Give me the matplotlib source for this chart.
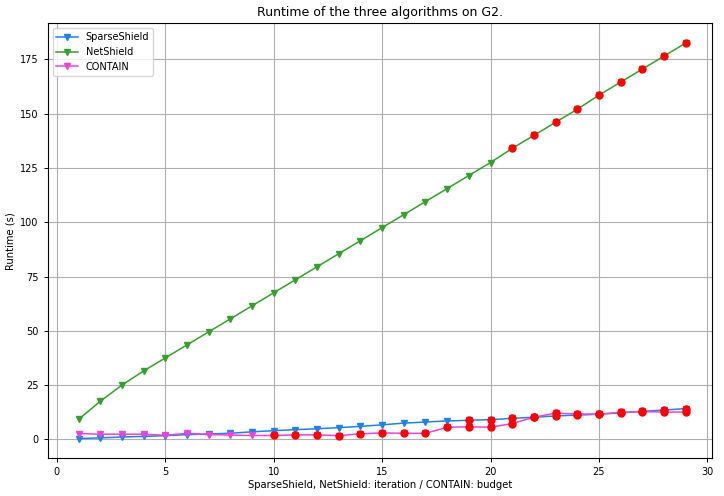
import numpy as np
import matplotlib
matplotlib.use("Agg")
import matplotlib.pyplot as plt

# ── data ─────────────────────────────────────────────────────
steps = list(range(1, 30))

sparseshield = [0.4, 0.7, 1.1, 1.4, 1.7, 2.2, 2.5, 2.8, 3.5, 4.0,
                4.5, 4.9, 5.4, 6.0, 6.7, 7.5, 8.0, 8.5, 8.8, 9.1,
                9.7, 10.2, 10.8, 11.2, 11.6, 12.3, 12.9, 13.5, 14.2]

netshield = [9.2, 17.5, 25.0, 31.5, 37.5, 43.5, 49.5, 55.5, 61.5, 67.5,
             73.5, 79.5, 85.5, 91.5, 97.5, 103.5, 109.5, 115.5, 121.5, 127.5,
             134.0, 140.0, 146.0, 152.0, 158.5, 164.5, 170.5, 176.5, 182.5]

contain = [2.7, 2.4, 2.4, 2.4, 1.9, 2.8, 2.2, 2.0, 1.8, 1.8,
           2.1, 2.1, 1.7, 2.6, 3.0, 2.8, 2.8, 5.6, 5.8, 5.6,
           7.3, 10.2, 12.1, 11.7, 11.6, 12.4, 12.8, 12.6, 12.6]

# first step at which each series gets a red marker
red_from = {"sparse": 19, "net": 21, "contain": 10}

COLORS = {
    "sparse":  "#1f82e6",
    "net":     "#35a02c",
    "contain": "#e646dc",
    "red":     "#ff0000",
}

fig = plt.figure(figsize=(7.24, 4.96), dpi=100, facecolor="white")
ax = fig.add_axes([0.0659, 0.076, 0.9171, 0.877])

ax.plot(steps, sparseshield, color=COLORS["sparse"], marker="v", lw=1.1, ms=4.5,
        label="SparseShield")
ax.plot(steps, netshield, color=COLORS["net"], marker="v", lw=1.1, ms=4.5,
        label="NetShield")
ax.plot(steps, contain, color=COLORS["contain"], marker="v", lw=1.1, ms=4.5,
        label="CONTAIN")

# red markers (not in legend)
for key, series in (("sparse", sparseshield), ("net", netshield), ("contain", contain)):
    xs = [s for s in steps if s >= red_from[key]]
    ys = [v for s, v in zip(steps, series) if s >= red_from[key]]
    ax.plot(xs, ys, linestyle="none", marker="o", ms=5, color=COLORS["red"])

ax.set_xlim(-0.42, 30.2)
ax.grid(True, color="#b0b0b0", linewidth=0.8)
ax.tick_params(labelsize=7, length=3, width=0.7)
for sp in ax.spines.values():
    sp.set_linewidth(0.8)

ax.set_title("Runtime of the three algorithms on G2.", fontsize=9, pad=5)
ax.set_xlabel("SparseShield, NetShield: iteration / CONTAIN: budget", fontsize=7.2, labelpad=2)
ax.set_ylabel("Runtime (s)", fontsize=7.2, labelpad=3)
ax.legend(loc="upper left", fontsize=7, handlelength=2.2)

plt.savefig("out.png", dpi=100)
plt.close()
